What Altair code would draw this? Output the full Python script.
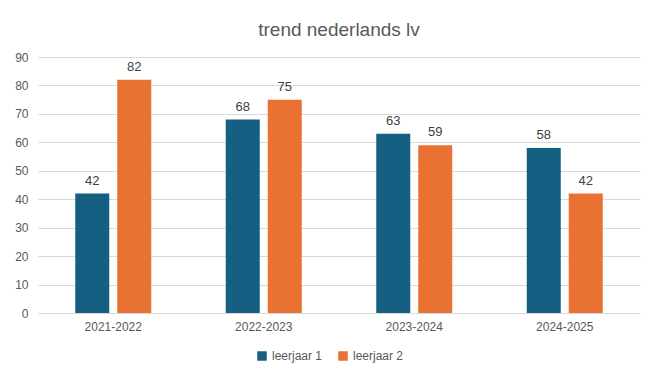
import altair as alt
import pandas as pd

years = ["2021-2022", "2022-2023", "2023-2024", "2024-2025"]
leerjaar1 = [42, 68, 63, 58]
leerjaar2 = [82, 75, 59, 42]
series = ["leerjaar 1", "leerjaar 2"]
colors = ["#156082", "#E97132"]

rows = []
for i, y in enumerate(years):
    rows.append({"jaar": y, "serie": series[0], "waarde": leerjaar1[i]})
    rows.append({"jaar": y, "serie": series[1], "waarde": leerjaar2[i]})
df = pd.DataFrame(rows)

FONT = "Liberation Sans"

x = alt.X("jaar:N", sort=years, title=None,
          scale=alt.Scale(paddingInner=0.495, paddingOuter=0.2475),
          axis=alt.Axis(labelAngle=0, labelFontSize=12, labelColor="#595959",
                        labelFont=FONT, ticks=False, domainColor="#d9d9d9",
                        labelPadding=8))
xo = alt.XOffset("serie:N", sort=series, scale=alt.Scale(paddingInner=0.19))
y = alt.Y("waarde:Q", title=None,
          scale=alt.Scale(domain=[0, 90]),
          axis=alt.Axis(values=list(range(0, 91, 10)), labelFontSize=12,
                        labelColor="#595959", labelFont=FONT, ticks=False,
                        domain=False, gridColor="#d9d9d9", labelPadding=10))

base = alt.Chart(df).encode(x=x, xOffset=xo, y=y)

bars = base.mark_bar().encode(
    color=alt.Color("serie:N", sort=series,
                    scale=alt.Scale(domain=series, range=colors),
                    legend=alt.Legend(title=None, orient="none", direction="horizontal",
                                      legendX=218, legendY=293, symbolType="square",
                                      symbolSize=90, symbolStrokeWidth=0,
                                      labelFontSize=12, labelColor="#595959",
                                      labelFont=FONT, columnPadding=14))
)

labels = base.mark_text(dy=-13, fontSize=13, color="#404040", font=FONT).encode(
    text=alt.Text("waarde:Q")
)

chart = (bars + labels).properties(
    width=602, height=256,
    autosize=alt.AutoSizeParams(type="none"),
    padding={"left": 30, "top": 49, "right": 9, "bottom": 71},
    title=alt.TitleParams("trend nederlands lv", fontSize=19, fontWeight="normal",
                          color="#595959", font=FONT, anchor="middle", offset=11),
).configure_view(stroke=None)

chart.save("out.html", embed_options={"renderer": "svg", "actions": False})
